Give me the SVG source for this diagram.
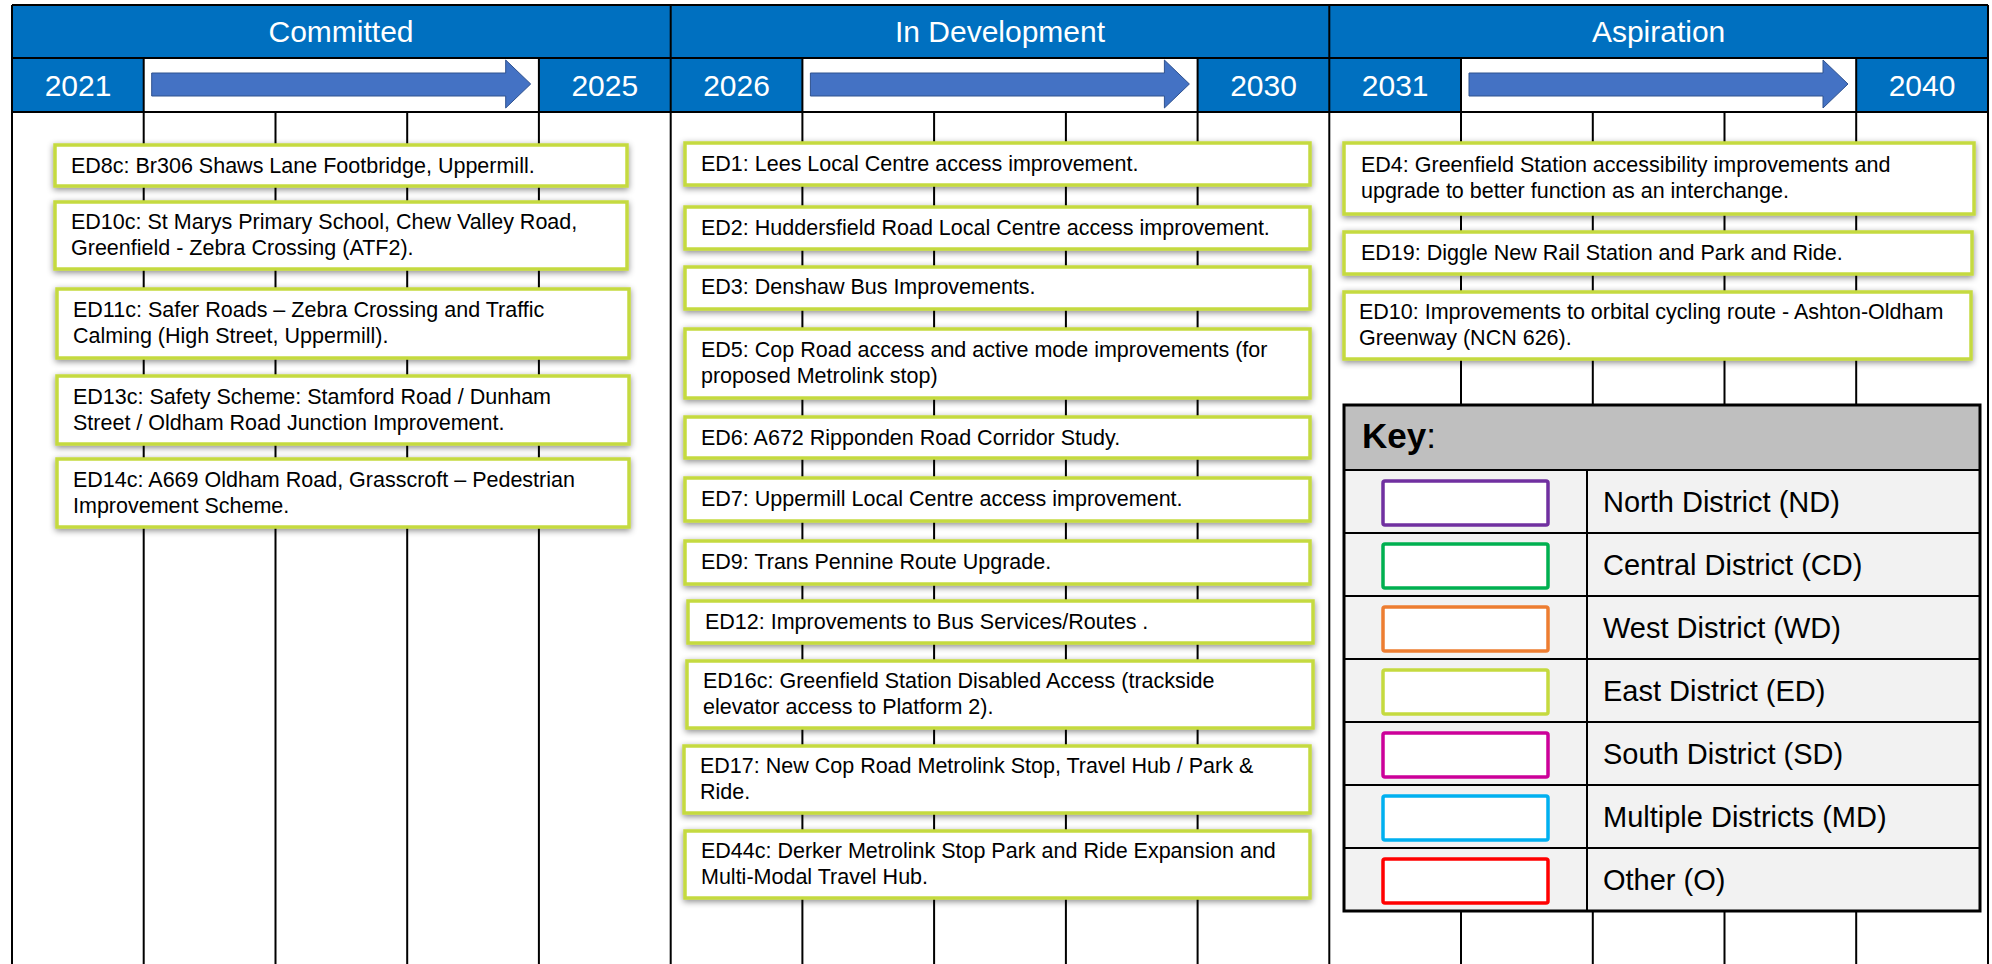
<svg xmlns="http://www.w3.org/2000/svg" width="1992" height="964" viewBox="0 0 1992 964">
<defs>
<filter id="sh" x="-5%" y="-25%" width="110%" height="160%">
<feDropShadow dx="0" dy="2" stdDeviation="3" flood-color="#000" flood-opacity="0.45"/>
</filter>
<path id="arr" d="M8,73 H362 V60 L387,84 L362,108 V96 H8 Z"/>
</defs>
<style>
.blue{fill:#0070C0}
.ln{stroke:#000;stroke-width:2;fill:none}
.ht{font-family:"Liberation Sans",Arial,sans-serif;font-size:30px;fill:#fff;text-anchor:middle}
.bx{fill:#fff;stroke:#C5DA3F;stroke-width:3.5;filter:url(#sh)}
.bt{font-family:"Liberation Sans",Arial,sans-serif;font-size:21.5px;fill:#000}
.arrow{fill:#4472C4;stroke:#2F528F;stroke-width:1}
.kt{font-family:"Liberation Sans",Arial,sans-serif;font-size:29px;fill:#000}
.sw{fill:#fff;stroke-width:3.5}
</style>
<rect width="1992" height="964" fill="#fff"/>

<g id="header">
<rect x="12" y="5" width="1976" height="53" class="blue"/>
<rect x="12" y="58" width="131.7" height="54" class="blue"/>
<rect x="538.9" y="58" width="263.5" height="54" class="blue"/>
<rect x="1197.6" y="58" width="263.4" height="54" class="blue"/>
<rect x="1856.2" y="58" width="131.8" height="54" class="blue"/>
<text class="ht" x="341" y="42">Committed</text>
<text class="ht" x="1000" y="42">In Development</text>
<text class="ht" x="1658.6" y="42">Aspiration</text>
<text class="ht" x="78" y="96">2021</text>
<text class="ht" x="604.8" y="96">2025</text>
<text class="ht" x="736.5" y="96">2026</text>
<text class="ht" x="1263.5" y="96">2030</text>
<text class="ht" x="1395.2" y="96">2031</text>
<text class="ht" x="1922" y="96">2040</text>
<use href="#arr" x="143.7" class="arrow"/>
<use href="#arr" x="802.4" class="arrow"/>
<use href="#arr" x="1461" class="arrow"/>
</g>

<g id="grid" class="ln">
<path d="M12,5 H1988 M12,58 H1988 M12,112 H1988 M12,5 V964 M1988,5 V964 M670.7,5 V964 M1329.3,5 V964"/>
<path d="M143.7,58 V964 M538.9,58 V964 M802.4,58 V964 M1197.6,58 V964 M1461,58 V964 M1856.2,58 V964"/>
<path d="M275.5,112 V964 M407.2,112 V964 M934.1,112 V964 M1065.9,112 V964 M1592.8,112 V964 M1724.5,112 V964"/>
</g>

<g id="ED8c"><rect class="bx" x="55" y="145" width="572" height="41"/><text class="bt" x="71" y="173">ED8c: Br306 Shaws Lane Footbridge, Uppermill.</text></g>
<g id="ED10c"><rect class="bx" x="55" y="202" width="572" height="67"/><text class="bt" x="71" y="229">ED10c: St Marys Primary School, Chew Valley Road,</text><text class="bt" x="71" y="255">Greenfield - Zebra Crossing (ATF2).</text></g>
<g id="ED11c"><rect class="bx" x="57" y="289" width="572" height="69"/><text class="bt" x="73" y="317">ED11c: Safer Roads – Zebra Crossing and Traffic</text><text class="bt" x="73" y="343">Calming (High Street, Uppermill).</text></g>
<g id="ED13c"><rect class="bx" x="57" y="376" width="572" height="68"/><text class="bt" x="73" y="404">ED13c: Safety Scheme: Stamford Road / Dunham</text><text class="bt" x="73" y="430">Street / Oldham Road Junction Improvement.</text></g>
<g id="ED14c"><rect class="bx" x="57" y="459" width="572" height="68"/><text class="bt" x="73" y="487">ED14c: A669 Oldham Road, Grasscroft – Pedestrian</text><text class="bt" x="73" y="513">Improvement Scheme.</text></g>

<g id="ED1"><rect class="bx" x="685" y="143" width="625" height="42"/><text class="bt" x="701" y="171">ED1: Lees Local Centre access improvement.</text></g>
<g id="ED2"><rect class="bx" x="685" y="207" width="625" height="42"/><text class="bt" x="701" y="235">ED2: Huddersfield Road Local Centre access improvement.</text></g>
<g id="ED3"><rect class="bx" x="685" y="267" width="625" height="42"/><text class="bt" x="701" y="294">ED3: Denshaw Bus Improvements.</text></g>
<g id="ED5"><rect class="bx" x="685" y="329" width="625" height="69"/><text class="bt" x="701" y="357">ED5: Cop Road access and active mode improvements (for</text><text class="bt" x="701" y="383">proposed Metrolink stop)</text></g>
<g id="ED6"><rect class="bx" x="685" y="417" width="625" height="41"/><text class="bt" x="701" y="445">ED6: A672 Ripponden Road Corridor Study.</text></g>
<g id="ED7"><rect class="bx" x="685" y="478" width="625" height="43"/><text class="bt" x="701" y="506">ED7: Uppermill Local Centre access improvement.</text></g>
<g id="ED9"><rect class="bx" x="685" y="541" width="625" height="43"/><text class="bt" x="701" y="569">ED9: Trans Pennine Route Upgrade.</text></g>
<g id="ED12"><rect class="bx" x="688" y="601" width="625" height="42"/><text class="bt" x="705" y="629">ED12: Improvements to Bus Services/Routes .</text></g>
<g id="ED16c"><rect class="bx" x="687" y="661" width="626" height="67"/><text class="bt" x="703" y="688">ED16c: Greenfield Station Disabled Access (trackside</text><text class="bt" x="703" y="714">elevator access to Platform 2).</text></g>
<g id="ED17"><rect class="bx" x="684" y="746" width="626" height="67"/><text class="bt" x="700" y="773">ED17: New Cop Road Metrolink Stop, Travel Hub / Park &amp;</text><text class="bt" x="700" y="799">Ride.</text></g>
<g id="ED44c"><rect class="bx" x="685" y="831" width="625" height="67"/><text class="bt" x="701" y="858">ED44c: Derker Metrolink Stop Park and Ride Expansion and</text><text class="bt" x="701" y="884">Multi-Modal Travel Hub.</text></g>

<g id="ED4"><rect class="bx" x="1344" y="143" width="630" height="71"/><text class="bt" x="1361" y="172">ED4: Greenfield Station accessibility improvements and</text><text class="bt" x="1361" y="198">upgrade to better function as an interchange.</text></g>
<g id="ED19"><rect class="bx" x="1344" y="232" width="628" height="42"/><text class="bt" x="1361" y="260">ED19: Diggle New Rail Station and Park and Ride.</text></g>
<g id="ED10"><rect class="bx" x="1344" y="292" width="627" height="67"/><text class="bt" x="1359" y="319">ED10: Improvements to orbital cycling route - Ashton-Oldham</text><text class="bt" x="1359" y="345">Greenway (NCN 626).</text></g>

<g id="key">
<rect x="1344" y="405" width="636" height="65" fill="#BFBFBF"/>
<rect x="1344" y="470" width="636" height="441" fill="#F2F2F2"/>
<path class="ln" d="M1344,470 H1980 M1344,533 H1980 M1344,596 H1980 M1344,659 H1980 M1344,722 H1980 M1344,785 H1980 M1344,848 H1980 M1587,470 V911"/>
<rect x="1344" y="405" width="636" height="506" fill="none" stroke="#000" stroke-width="3"/>
<text x="1362" y="448" font-family="'Liberation Sans',Arial,sans-serif" font-size="35" fill="#000"><tspan font-weight="bold">Key</tspan>:</text>
<rect class="sw" x="1383" y="481" width="165" height="44" rx="2" stroke="#7030A0"/>
<rect class="sw" x="1383" y="544" width="165" height="44" rx="2" stroke="#00B050"/>
<rect class="sw" x="1383" y="607" width="165" height="44" rx="2" stroke="#ED7D31"/>
<rect class="sw" x="1383" y="670" width="165" height="44" rx="2" stroke="#C5DA3F"/>
<rect class="sw" x="1383" y="733" width="165" height="44" rx="2" stroke="#CC0099"/>
<rect class="sw" x="1383" y="796" width="165" height="44" rx="2" stroke="#00B0F0"/>
<rect class="sw" x="1383" y="859" width="165" height="44" rx="2" stroke="#FF0000"/>
<text class="kt" x="1603" y="512">North District (ND)</text>
<text class="kt" x="1603" y="575">Central District (CD)</text>
<text class="kt" x="1603" y="638">West District (WD)</text>
<text class="kt" x="1603" y="701">East District (ED)</text>
<text class="kt" x="1603" y="764">South District (SD)</text>
<text class="kt" x="1603" y="827">Multiple Districts (MD)</text>
<text class="kt" x="1603" y="890">Other (O)</text>
</g>
</svg>
